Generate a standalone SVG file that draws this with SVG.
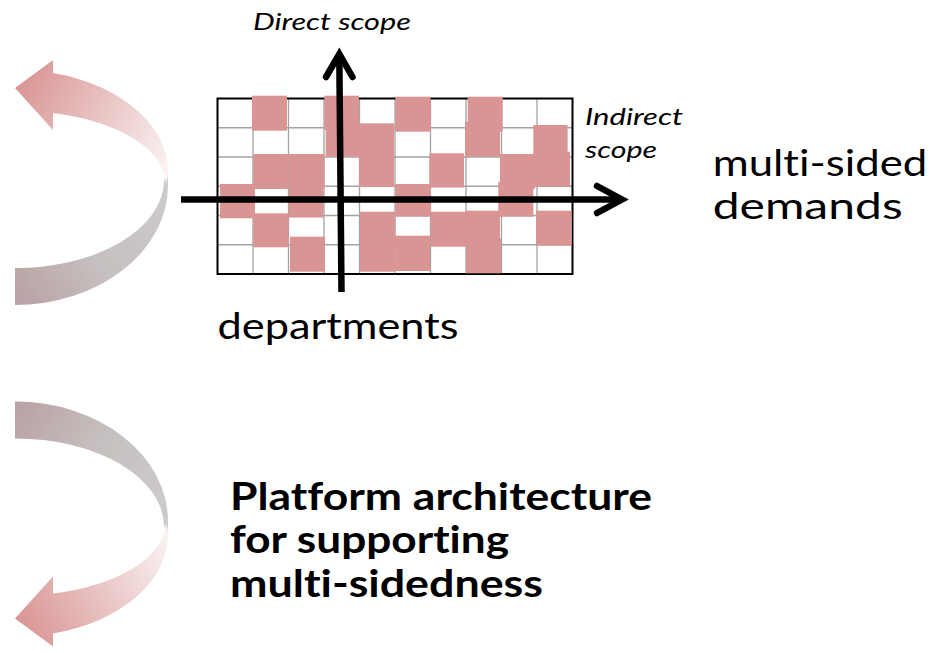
<svg xmlns="http://www.w3.org/2000/svg" xmlns:xlink="http://www.w3.org/1999/xlink" width="948" height="653" viewBox="0 0 948 653">
  <style>
    .grid { stroke: #a3a3a3; stroke-width: 1.3; fill: none; }
    .frame { stroke: #000; stroke-width: 2; fill: none; }
    .cell { fill: #d99594; }
    .axis { stroke: #000; stroke-width: 6.5; fill: none; }
    .head { stroke: #000; stroke-width: 6.5; fill: none; stroke-linecap: round; stroke-linejoin: miter; }
    .lbl { font-family: Lato, "Open Sans", "Liberation Sans", sans-serif; fill: #000; font-variant-ligatures: none; font-feature-settings: "liga" 0, "clig" 0; }
    .it { font-style: italic; font-size: 22.5px; }
    .big { font-size: 36.5px; }
    .bold { font-size: 38px; font-weight: bold; }
  </style>
  <defs>
    <linearGradient id="gFront" gradientUnits="userSpaceOnUse" x1="15" y1="90" x2="168" y2="170">
      <stop offset="0" stop-color="#d99594"/>
      <stop offset="0.5" stop-color="#e9c4c4"/>
      <stop offset="1" stop-color="#faf3f3"/>
    </linearGradient>
    <linearGradient id="gBack" gradientUnits="userSpaceOnUse" x1="168" y1="190" x2="15" y2="290">
      <stop offset="0" stop-color="#cdcbca"/>
      <stop offset="0.55" stop-color="#c6bfbf"/>
      <stop offset="1" stop-color="#baa3a4"/>
    </linearGradient>
    <!-- ribbon arrow turning back to the left -->
    <g id="curl">
      <path fill="url(#gBack)" d="M168,174 L168,185 A153,120 0 0 1 15,305 L15,268 A148,88 0 0 0 164,181 Z"/>
      <path fill="url(#gFront)" d="M53,73 A153,102 0 0 1 168,176 L166,184 A148,74 0 0 0 53,113 L53,130 L15,88 L53,60 Z"/>
    </g>
  </defs>

  <rect width="948" height="653" fill="#fff"/>

  <g id="curl-top">
    <use xlink:href="#curl"/>
  </g>
  <g id="curl-bottom">
    <use xlink:href="#curl" transform="translate(0,706.5) scale(1,-1)"/>
  </g>

  <g id="matrix">
    <path class="grid" d="M253,98.5V274 M288.5,98.5V274 M324,98.5V274 M359.5,98.5V274 M395,98.5V274 M430.5,98.5V274 M466,98.5V274 M501.5,98.5V274 M537,98.5V274 M217.5,127.75H572.5 M217.5,157H572.5 M217.5,186.25H572.5 M217.5,215.5H572.5 M217.5,244.75H572.5"/>
    <rect class="frame" x="217.5" y="98.5" width="355" height="175.5"/>
    <rect class="cell" x="252" y="95.7" width="35" height="35"/>
    <rect class="cell" x="324.3" y="95.7" width="34.7" height="34.3"/>
    <rect class="cell" x="395.3" y="96.7" width="35.3" height="35"/>
    <rect class="cell" x="467.7" y="96.7" width="35" height="35"/>
    <rect class="cell" x="325.7" y="123.3" width="33.3" height="33.3"/>
    <rect class="cell" x="359" y="123.3" width="35" height="35"/>
    <rect class="cell" x="465" y="121.7" width="35" height="35"/>
    <rect class="cell" x="533.3" y="125" width="34.3" height="33"/>
    <rect class="cell" x="253.3" y="154" width="35.3" height="35"/>
    <rect class="cell" x="288.7" y="154" width="35.7" height="35"/>
    <rect class="cell" x="359" y="153" width="35" height="34"/>
    <rect class="cell" x="429.3" y="153.3" width="34.7" height="34.3"/>
    <rect class="cell" x="500" y="154" width="35" height="35"/>
    <rect class="cell" x="535" y="151.7" width="35" height="35"/>
    <rect class="cell" x="220" y="184" width="35" height="34.3"/>
    <rect class="cell" x="288.7" y="183.3" width="34.7" height="34.3"/>
    <rect class="cell" x="395.3" y="184" width="35.3" height="32.7"/>
    <rect class="cell" x="498.3" y="181.7" width="35" height="35"/>
    <rect class="cell" x="253.3" y="213.3" width="35.3" height="34"/>
    <rect class="cell" x="360" y="211.7" width="35.3" height="35"/>
    <rect class="cell" x="430.7" y="211.7" width="35.3" height="35"/>
    <rect class="cell" x="466" y="210.7" width="34" height="34.3"/>
    <rect class="cell" x="536" y="210.7" width="35.7" height="35"/>
    <rect class="cell" x="290" y="236.7" width="35" height="35"/>
    <rect class="cell" x="360" y="236.7" width="35.3" height="35"/>
    <rect class="cell" x="395.3" y="235.7" width="34.7" height="35.3"/>
    <rect class="cell" x="466" y="238.3" width="35" height="35"/>
  </g>

  <g id="axes">
    <line class="axis" x1="341.5" y1="292" x2="339.3" y2="56"/>
    <polyline class="head" points="326,77 339.3,54 352.5,77"/>
    <line class="axis" x1="181" y1="199.5" x2="620" y2="199.5"/>
    <polyline class="head" points="597,186 622,199.5 597,213"/>
  </g>

  <g id="label-direct">
    <text class="lbl it" x="253" y="29.5" textLength="158" lengthAdjust="spacingAndGlyphs">Direct scope</text>
  </g>
  <g id="label-indirect">
    <text class="lbl it" x="585" y="125" textLength="98" lengthAdjust="spacingAndGlyphs">Indirect</text>
    <text class="lbl it" x="585" y="158.3" textLength="72" lengthAdjust="spacingAndGlyphs">scope</text>
  </g>
  <g id="label-departments">
    <text class="lbl big" x="217.5" y="339.3" textLength="241" lengthAdjust="spacingAndGlyphs">departments</text>
  </g>
  <g id="label-demands">
    <text class="lbl big" x="712.7" y="175.7" textLength="214.6" lengthAdjust="spacingAndGlyphs">multi-sided</text>
    <text class="lbl big" x="712.7" y="219.3" textLength="190" lengthAdjust="spacingAndGlyphs">demands</text>
  </g>
  <g id="label-platform">
    <text class="lbl bold" x="230" y="510" textLength="422" lengthAdjust="spacingAndGlyphs">Platform architecture</text>
    <text class="lbl bold" x="230" y="553.3" textLength="279" lengthAdjust="spacingAndGlyphs">for supporting</text>
    <text class="lbl bold" x="230" y="596.7" textLength="313" lengthAdjust="spacingAndGlyphs">multi-sidedness</text>
  </g>
</svg>
